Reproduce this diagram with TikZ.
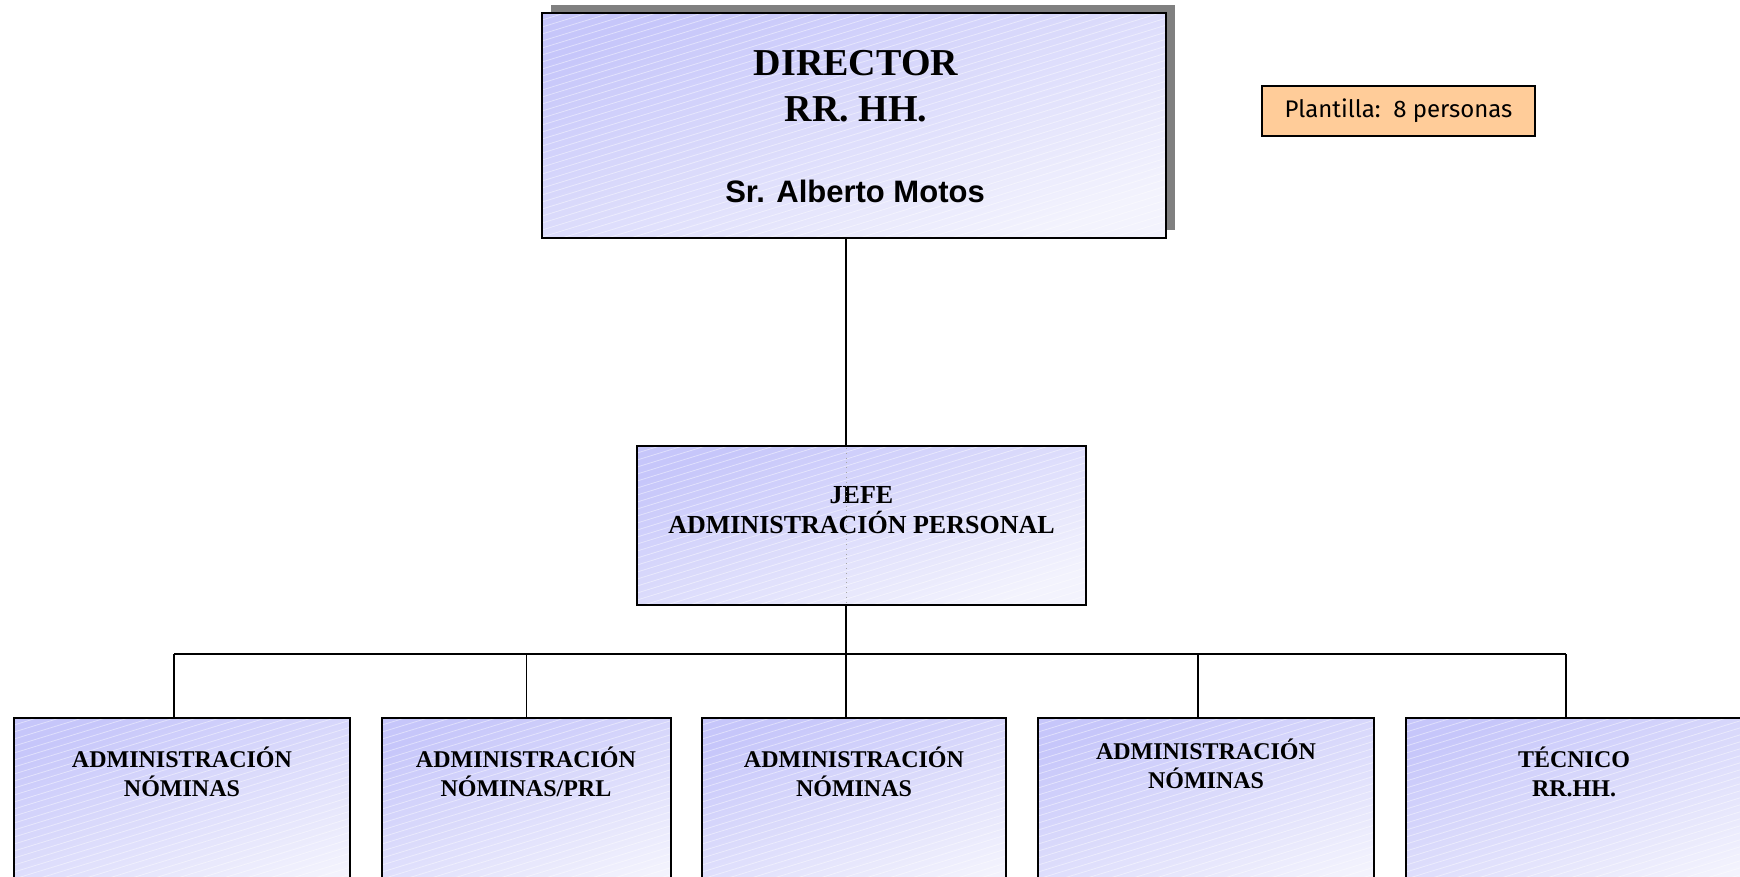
\documentclass[tikz,border=0pt]{standalone}
\usepackage{fontspec}
\setmainfont{Liberation Serif}
\newfontfamily\namefont{Liberation Sans}
\newfontfamily\notefont{Fira Sans}
\usetikzlibrary{shadows}

\definecolor{boxdark}{RGB}{198,198,250}
\definecolor{boxlight}{RGB}{243,243,253}
\definecolor{notefill}{RGB}{255,204,153}
\definecolor{shadowgray}{RGB}{128,128,128}

\begin{document}
\begin{tikzpicture}[x=0.5pt,y=-0.5pt,
    hatch/.style={path picture={
        \foreach \k in {0,...,70}
          \draw[white,opacity=.45,line width=.4pt]
            ([yshift=-\k*3.5pt]path picture bounding box.north west) -- ++(17:420pt);}},
    orgbox/.style={draw=black,line width=.8pt,top color=boxdark,bottom color=boxlight,
      shading angle=20,hatch,inner sep=0pt},
    boxtxt/.style={align=center,inner sep=0pt,anchor=base,
      font=\fontsize{12}{14.5}\selectfont\bfseries},
    link/.style={line width=.8pt}]
  \useasboundingbox (0,0) rectangle (1740,877);

  % top
  \node[orgbox,minimum width=312pt,minimum height=112.5pt,
    drop shadow={shadow xshift=4.5pt,shadow yshift=4pt,fill=shadowgray,opacity=1}]
    (dir) at (854,125.5) {};
  \node[align=center,inner sep=0pt,anchor=base,
    font=\fontsize{19}{23}\selectfont\bfseries] (dirtxt) at (856,122) {DIRECTOR\\RR. HH.};
  \node[inner sep=0pt,anchor=base,font=\namefont\fontsize{15.5}{18}\selectfont\bfseries]
    (dirname) at (855,203) {Sr. Alberto Motos};

  \node[draw=black,line width=.6pt,fill=notefill,minimum width=136.5pt,minimum height=25pt,
    inner sep=0pt,font=\notefont\fontsize{12}{14}\selectfont] (staff) at (1398.5,111)
    {Plantilla:~~8 personas};

  % middle
  \node[orgbox,minimum width=224.5pt,minimum height=79.5pt] (jefe) at (861.5,525.5) {};
  \node[boxtxt,font=\fontsize{13}{15}\selectfont\bfseries] (jefetxt) at (861.5,533)
    {JEFE\\ADMINISTRACIÓN PERSONAL};
  \draw[black!35,dotted,line width=.4pt] (846,448) -- (846,603);

  % bottom row
  \node[orgbox,minimum width=168pt,minimum height=91pt] (nom1) at (182,809) {};
  \node[orgbox,minimum width=144.5pt,minimum height=91pt] (prl) at (526.5,809) {};
  \node[orgbox,minimum width=152pt,minimum height=91pt] (nom2) at (854,809) {};
  \node[orgbox,minimum width=168pt,minimum height=91pt] (nom3) at (1206,809) {};
  \node[orgbox,minimum width=168pt,minimum height=91pt] (tec) at (1574,809) {};

  \node[boxtxt] (nom1txt) at (182,796) {ADMINISTRACIÓN\\NÓMINAS};
  \node[boxtxt] (prltxt) at (526,796) {ADMINISTRACIÓN\\NÓMINAS/PRL};
  \node[boxtxt] (nom2txt) at (854,796) {ADMINISTRACIÓN\\NÓMINAS};
  \node[boxtxt] (nom3txt) at (1206,788) {ADMINISTRACIÓN\\NÓMINAS};
  \node[boxtxt] (tectxt) at (1574,796) {TÉCNICO\\RR.HH.};

  % links
  \coordinate (bus) at (846,654);
  \draw[link] ([xshift=-4pt]dir.south) -- ([xshift=-4pt]dir.south |- jefe.north);
  \draw[link] ([xshift=-7.75pt]jefe.south) -- ([xshift=-7.75pt]jefe.south |- bus);
  \draw[link] ([xshift=-4pt]nom1.north |- bus) -- ([xshift=-4pt]tec.north |- bus);
  \foreach \b/\dx in {nom1/-4pt,prl/0pt,nom2/-4pt,nom3/-4pt,tec/-4pt}
    \draw[link] ([xshift=\dx]\b.north |- bus) -- ([xshift=\dx]\b.north);
\end{tikzpicture}
\end{document}
